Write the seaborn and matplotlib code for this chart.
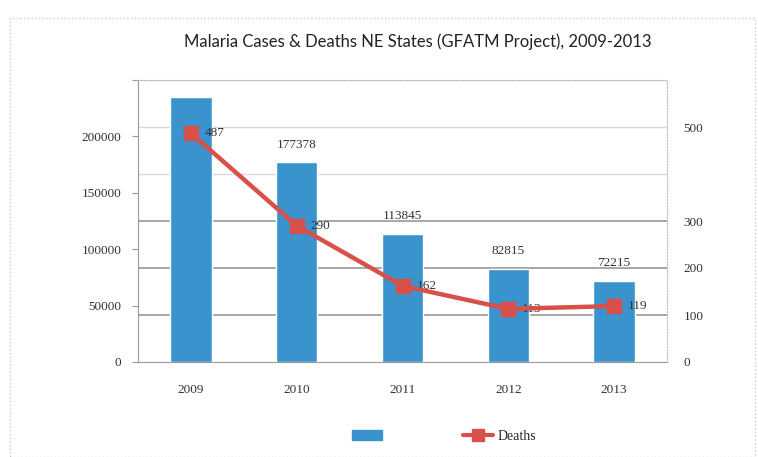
import matplotlib
matplotlib.use("Agg")
import matplotlib.pyplot as plt
import seaborn as sns
import pandas as pd
from matplotlib.patches import Patch, Rectangle
from matplotlib.lines import Line2D

years = ["2009", "2010", "2011", "2012", "2013"]
cases = [235000, 177378, 113845, 82815, 72215]
deaths = [487, 290, 162, 113, 119]
case_labels = ["", "177378", "113845", "82815", "72215"]
left_ticks = [0, 50000, 100000, 150000, 200000, 250000]
left_tick_labels = ["0", "50000", "100000", "150000", "200000", ""]
right_ticks = [0, 100, 200, 300, 400, 500, 600]
right_tick_labels = ["0", "100", "200", "300", "", "500", ""]

df = pd.DataFrame({"year": years, "cases": cases, "deaths": deaths})

sns.set_style("white")
plt.rcParams["font.family"] = ["Liberation Serif", "DejaVu Sans"]

BLUE = "#3a93cc"
RED = "#d9504a"
TXT = "#333333"
FS = 9.5

fig = plt.figure(figsize=(7.58, 4.57), dpi=100)
ax = fig.add_axes([138 / 758, 1 - 362 / 457, (667 - 138) / 758, (362 - 80) / 457])

sns.barplot(data=df, x="year", y="cases", ax=ax, color=BLUE, width=0.39,
            saturation=1, zorder=2)
ax.set_xlim(-0.5, 4.5)
ax.set_ylim(0, 250000)
ax.set_yticks(left_ticks)
ax.set_yticklabels(left_tick_labels)
ax.set_xlabel("")
ax.set_ylabel("")
ax.tick_params(axis="y", which="both", left=True, length=4, color="#999999",
               labelsize=FS, labelcolor=TXT, pad=8)
ax.tick_params(axis="x", length=0, labelsize=FS, labelcolor=TXT, pad=16)

for i, lab in enumerate(case_labels):
    if lab:
        ax.annotate(lab, (i, cases[i]), xytext=(0, 8), textcoords="offset points",
                    ha="center", va="bottom", fontsize=FS, color=TXT)

for v in right_ticks[1:]:
    col = "#a6a6a6" if v in (100, 200, 300) else "#d9d9d9"
    lw = 1.4 if v in (100, 200, 300) else 1
    ax.axhline(v * 250000 / 600, color=col, linewidth=lw, zorder=0)

ax2 = ax.twinx()
sns.pointplot(data=df, x="year", y="deaths", ax=ax2, color=RED, markers="s",
              linestyles="-", markersize=9, linewidth=3.2, zorder=4)
ax2.set_xlim(-0.5, 4.5)
ax2.set_ylim(0, 600)
ax2.set_yticks(right_ticks)
ax2.set_yticklabels(right_tick_labels)
ax2.set_ylabel("")
ax2.grid(False)
ax2.tick_params(axis="y", length=0, labelsize=FS, labelcolor=TXT, pad=12)
ax2.patch.set_visible(False)

for i, d in enumerate(deaths):
    ax2.annotate(str(d), (i, d), xytext=(10, 0), textcoords="offset points",
                 ha="left", va="center", fontsize=FS, color=TXT)

for a in (ax, ax2):
    for s in a.spines.values():
        s.set_visible(False)
ax.spines["left"].set_visible(True)
ax.spines["left"].set_color("#999999")
ax.spines["bottom"].set_visible(True)
ax.spines["bottom"].set_color("#999999")
ax2.spines["right"].set_visible(True)
ax2.spines["right"].set_color("#bbbbbb")
ax2.spines["right"].set_linestyle(":")
ax2.spines["top"].set_visible(True)
ax2.spines["top"].set_color("#bbbbbb")
ax2.spines["top"].set_linestyle(":")

fig.text(418 / 758, 1 - 42 / 457, "Malaria Cases & Deaths NE States (GFATM Project), 2009-2013",
         ha="center", va="center", fontsize=12, family=["Lato", "DejaVu Sans"], color="#222222")

handles = [Patch(facecolor=BLUE, edgecolor=BLUE, label=""),
           Line2D([0], [0], color=RED, linewidth=3, marker="s", markersize=9, label="Deaths")]
fig.legend(handles=handles, labels=["", "Deaths"], loc="center",
           bbox_to_anchor=(444 / 758, 1 - 436 / 457), ncol=2, frameon=False,
           columnspacing=5.5, handlelength=2.2, fontsize=10, handletextpad=0.3)

fig.patches.append(Rectangle((10 / 758, 0.0), 745 / 758, 1 - 18 / 457, transform=fig.transFigure,
                             fill=False, edgecolor="#cccccc", linestyle=":", linewidth=1))

fig.savefig("out.png", dpi=100)
